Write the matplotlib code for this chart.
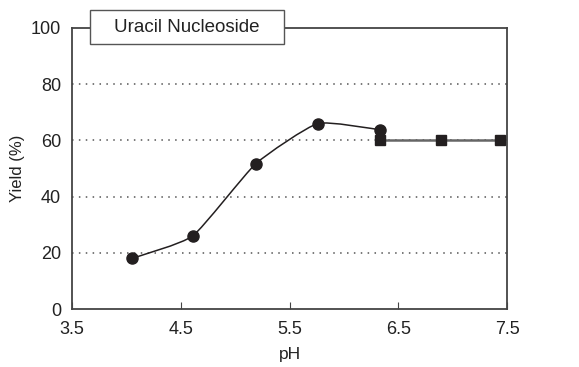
import numpy as np
from matplotlib import pyplot as plt
from matplotlib.path import Path
from matplotlib.patches import PathPatch, Rectangle

# values
ph_circle = [4.05, 4.61, 5.19, 5.76, 6.33]
yield_circle = [18.0, 26.0, 51.7, 66.0, 63.8]
ph_square = [6.33, 6.89, 7.44]
yield_square = [60.0, 60.0, 60.0]

x_ticks = [3.5, 4.5, 5.5, 6.5, 7.5]
x_tick_labels = ['3.5', '4.5', '5.5', '6.5', '7.5']
y_ticks = [0, 20, 40, 60, 80, 100]

plt.rcParams['font.family'] = ['Liberation Sans', 'DejaVu Sans']

fig = plt.figure(figsize=(5.79, 3.67), dpi=100)
ax = fig.add_axes([72 / 579, 1 - 309 / 367, 435 / 579, 281 / 367])
ax.set_xlim(3.5, 7.5)
ax.set_ylim(0, 100)

dark = '#231f20'


# smooth curve through the circles (cubic bezier segments)
def smooth_path(xs, ys, k=12.0):
    pts = np.column_stack([xs, ys])
    n = len(pts)
    verts = [pts[0]]
    codes = [Path.MOVETO]
    for i in range(n - 1):
        p0 = pts[i - 1] if i > 0 else pts[i]
        p1 = pts[i]
        p2 = pts[i + 1]
        p3 = pts[i + 2] if i + 2 < n else pts[i + 1]
        c1 = p1 + (p2 - p0) / k
        c2 = p2 - (p3 - p1) / k
        verts += [c1, c2, p2]
        codes += [Path.CURVE4] * 3
    return Path(verts, codes)


ax.add_patch(PathPatch(smooth_path(ph_circle, yield_circle), facecolor='none',
                       edgecolor=dark, lw=1.1, zorder=3))
ax.plot(ph_square, yield_square, color='#666666', lw=1.8, zorder=3)
ax.plot(ph_circle, yield_circle, 'o', color=dark, ms=8, ls='none', zorder=4)
ax.plot(ph_square, yield_square, 's', color=dark, ms=6.5, ls='none', zorder=4)

for y in [20, 40, 60, 80]:
    ax.axhline(y, color='#555555', lw=1.1, ls=(0, (1, 3.5)), zorder=1)

ax.set_xticks(x_ticks)
ax.set_xticklabels(x_tick_labels)
ax.set_yticks(y_ticks)
ax.tick_params(axis='x', direction='in', length=5, width=0.8, color='#444444',
               labelsize=13, pad=9, labelcolor='#222222')
ax.tick_params(axis='y', length=0, labelsize=13, pad=8, labelcolor='#222222')
for s in ax.spines.values():
    s.set_color('#444444')
    s.set_linewidth(1.3)

ax.set_xlabel('pH', fontsize=12.5, color='#222222', labelpad=6)
ax.set_ylabel('Yield (%)', fontsize=12, color='#222222', labelpad=4)

# title box over the top spine
fig.patches.append(Rectangle((90 / 579, 1 - 44 / 367), 194 / 579, 34 / 367,
                             transform=fig.transFigure, facecolor='white',
                             edgecolor='#555555', lw=1.0, zorder=10))
fig.text(187 / 579, 1 - 27.5 / 367, 'Uracil Nucleoside', ha='center', va='center',
         fontsize=13.5, color='#222222', zorder=11)

fig.savefig('out.png', dpi=100)
